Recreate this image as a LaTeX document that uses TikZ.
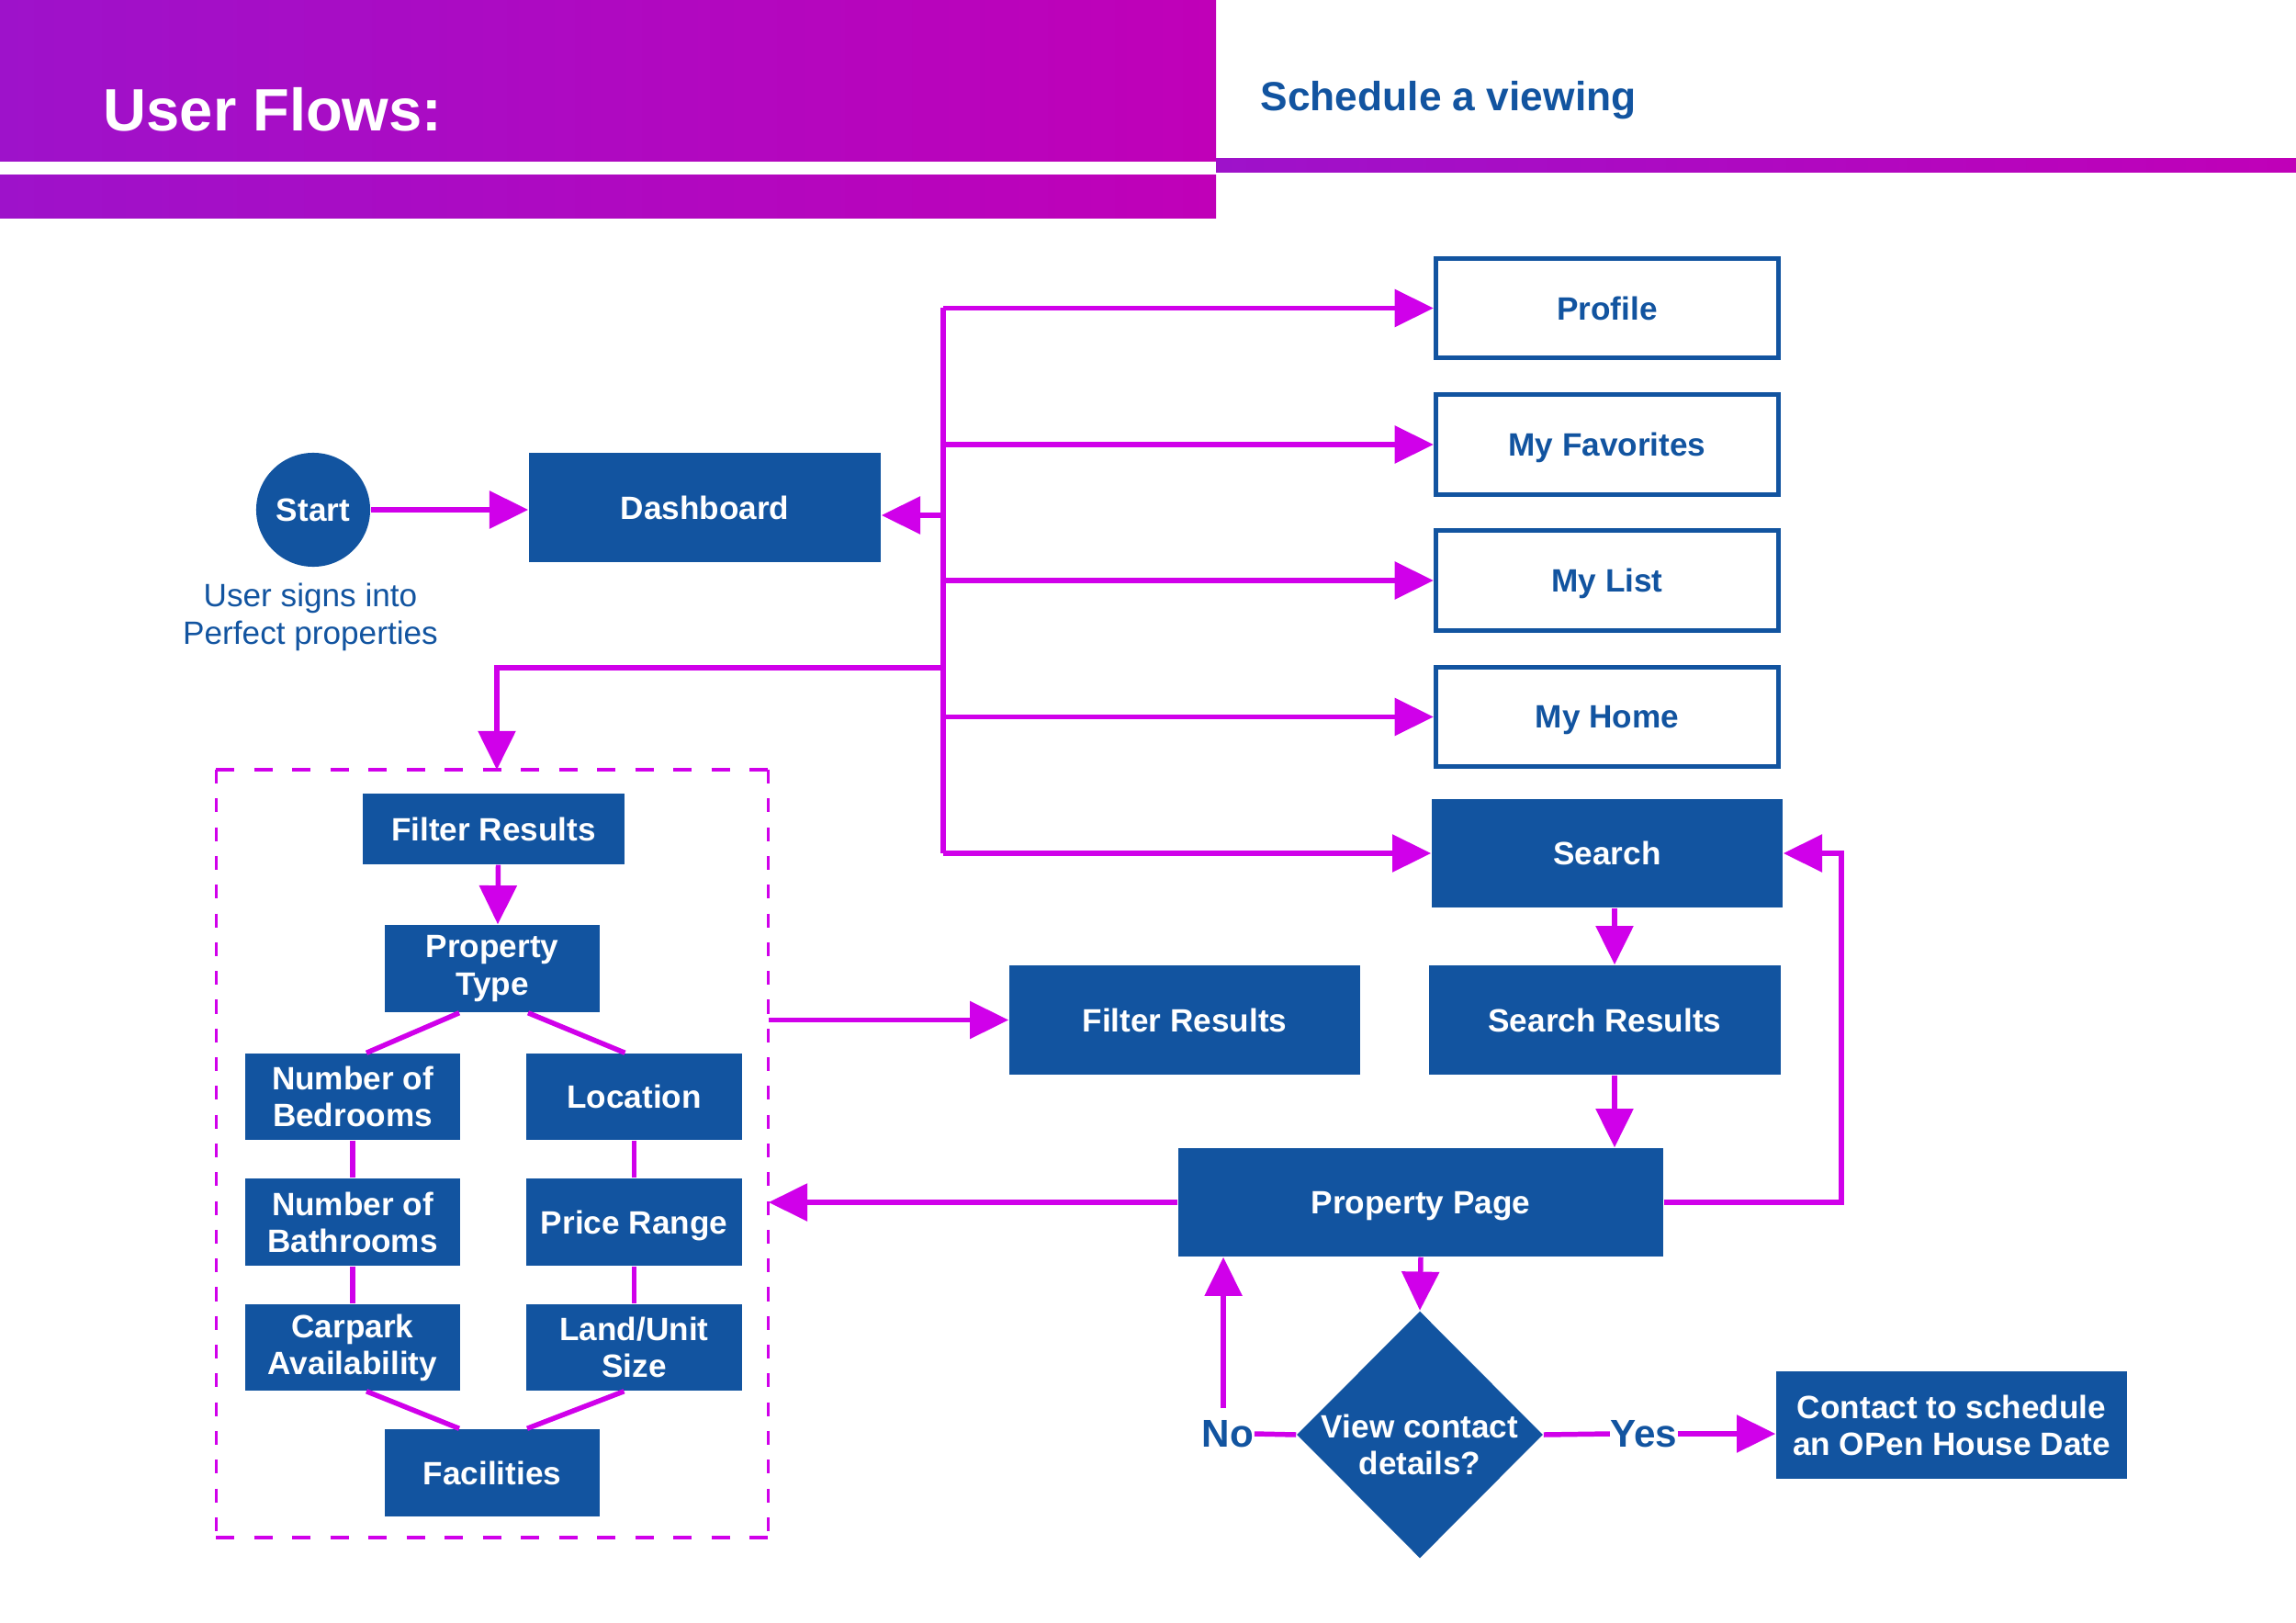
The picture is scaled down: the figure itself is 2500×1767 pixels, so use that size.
\documentclass[tikz,border=0pt]{standalone}
\usepackage{fontspec}
\setmainfont{Liberation Sans}
\usetikzlibrary{arrows.meta,calc,shapes.geometric}
\definecolor{pblue}{RGB}{18,84,160}
\definecolor{pmag}{RGB}{208,0,234}
\definecolor{hdrL}{RGB}{158,18,202}
\definecolor{hdrR}{RGB}{192,0,184}
\begin{document}
\begin{tikzpicture}[x=0.01cm,y=-0.01cm,
  fillbox/.style={rectangle, fill=pblue, text=white, font=\bfseries\fontsize{10}{11.4}\selectfont, align=center, inner sep=0pt},
  oneline/.style={text depth=0pt},
  linebox/.style={rectangle, draw=pblue, line width=1.42pt, fill=white, text=pblue, font=\bfseries\fontsize{10}{11.4}\selectfont, minimum width=3.73cm, minimum height=1.08cm, inner sep=0pt, text depth=0pt},
  whitetext/.style={text=white, font=\bfseries\fontsize{10}{11.4}\selectfont, align=center, inner sep=0pt},
  conn/.style={draw=pmag, line width=1.56pt},
  arr/.style={conn, -{Triangle[length=12pt,width=11.4pt]}},
  lbl/.style={text=pblue, font=\bfseries\fontsize{12}{14}\selectfont, inner sep=0pt},
  dashh/.style={draw=pmag, line width=0.9pt, dash pattern=on 5.7pt off 6.1pt},
  dashv/.style={draw=pmag, line width=0.9pt, dash pattern=on 4.3pt off 4.6pt},
]
\useasboundingbox (0,0) rectangle (2500,1767);
% header
\shade[left color=hdrL, right color=hdrR] (0,0) rectangle (1324,176);
\shade[left color=hdrL, right color=hdrR] (0,191) rectangle (1324,238);
\shade[left color=hdrL, right color=hdrR] (1324,173) rectangle (2500,188);
\node[anchor=base west, text=white, font=\bfseries\fontsize{18.5}{22}\selectfont, inner sep=0pt] (title) at (112,143) {User Flows:};
\node[anchor=base west, text=pblue, font=\bfseries\fontsize{12.6}{15}\selectfont, inner sep=0pt] (subtitle) at (1372,121) {Schedule a viewing};

% start
\node[circle, fill=pblue, text=white, font=\bfseries\fontsize{10}{12}\selectfont, minimum size=1.24cm, inner sep=0pt] (start) at (341,555) {Start};
\node[anchor=north, text=pblue, font=\fontsize{10}{11.7}\selectfont, align=center, inner sep=0pt] (signin) at (338,634) {User signs into\\Perfect properties};

\node[fillbox, oneline, minimum width=3.83cm, minimum height=1.19cm] (dash) at (767.5,552.5) {Dashboard};

% right column
\node[linebox] (profile) at (1750,335.5) {Profile};
\node[linebox] (fav) at (1750,484) {My Favorites};
\node[linebox] (mylist) at (1750,632) {My List};
\node[linebox] (myhome) at (1750,780.5) {My Home};
\node[fillbox, oneline, minimum width=3.82cm, minimum height=1.18cm] (search) at (1750,929) {Search};
\node[fillbox, oneline, minimum width=3.83cm, minimum height=1.19cm] (sres) at (1747.5,1110.5) {Search Results};
\node[fillbox, oneline, minimum width=3.82cm, minimum height=1.19cm] (fr2) at (1290,1110.5) {Filter Results};
\node[fillbox, oneline, minimum width=5.28cm, minimum height=1.18cm] (ppage) at (1547,1309) {Property Page};
\node[diamond, fill=pblue, minimum width=2.68cm, minimum height=2.69cm, inner sep=0pt] (dec) at (1546,1562) {};
\node[whitetext] (dectext) at (1546,1573) {View contact\\details?};
\node[fillbox, minimum width=3.82cm, minimum height=1.17cm] (contact) at (2125,1551.5) {Contact to schedule\\an OPen House Date};
\node[lbl] (no) at (1337,1561) {No};
\node[lbl] (yes) at (1790,1561) {Yes};

% filter panel
\node[rectangle, minimum width=6cm, minimum height=8.34cm, inner sep=0pt] (fbox) at (536,1256) {};
\draw[dashh] (fbox.north west) -- (fbox.north east);
\draw[dashh] (fbox.south west) -- (fbox.south east);
\draw[dashv] (fbox.north west) -- (fbox.south west);
\draw[dashv] (fbox.north east) -- (fbox.south east);
\node[fillbox, oneline, minimum width=2.85cm, minimum height=0.77cm] (fr1) at (537.5,902.5) {Filter Results};
\node[fillbox, minimum width=2.34cm, minimum height=0.95cm] (ptype) at (536,1054.5) {Property\\Type};
\node[fillbox, minimum width=2.34cm, minimum height=0.94cm] (bed) at (384,1194) {Number of\\Bedrooms};
\node[fillbox, oneline, minimum width=2.35cm, minimum height=0.94cm] (loc) at (690.5,1194) {Location};
\node[fillbox, minimum width=2.34cm, minimum height=0.95cm] (bath) at (384,1330.5) {Number of\\Bathrooms};
\node[fillbox, oneline, minimum width=2.35cm, minimum height=0.95cm] (price) at (690.5,1330.5) {Price Range};
\node[fillbox, minimum width=2.34cm, minimum height=0.94cm] (car) at (384,1467) {Carpark\\Availability};
\node[fillbox, minimum width=2.35cm, minimum height=0.94cm] (land) at (690.5,1467) {Land/Unit\\Size};
\node[fillbox, oneline, minimum width=2.34cm, minimum height=0.95cm] (fac) at (536,1603.5) {Facilities};

% connectors
\draw[arr] (start.east) -- (start.east -| dash.west);
\coordinate (busx) at (1027,0);
\draw[conn] (profile.west -| busx) -- (search.west -| busx);
\draw[arr] (profile.west -| busx) -- (profile.west);
\draw[arr] (fav.west -| busx) -- (fav.west);
\draw[arr] (mylist.west -| busx) -- (mylist.west);
\draw[arr] (myhome.west -| busx) -- (myhome.west);
\draw[arr] (search.west -| busx) -- (search.west);
\coordinate (bdash) at (1027,561);
\draw[arr] (bdash) -- (bdash -| dash.east);
\coordinate (bfil) at (1027,727);
\draw[arr] (bfil) -| ($(fbox.north)+(5,0)$);

\draw[arr] (fr2.west -| fbox.east) -- (fr2.west);
\draw[arr] ($(fr1.south)+(5,0)$) -- ($(ptype.north)+(6,0)$);
\draw[conn] ($(ptype.south)+(-36,0)$) -- ($(bed.north)+(15,0)$);
\draw[conn] ($(ptype.south)+(39,0)$) -- ($(loc.north)+(-10,0)$);
\draw[conn] (bed.south) -- (bath.north);
\draw[conn] (bath.south) -- (car.north);
\draw[conn] (loc.south) -- (price.north);
\draw[conn] (price.south) -- (land.north);
\draw[conn] ($(car.south)+(15,0)$) -- ($(fac.north)+(-36,0)$);
\draw[conn] ($(land.south)+(-11,0)$) -- ($(fac.north)+(38,0)$);

\draw[arr] ($(search.south)+(8,0)$) -- ($(sres.north)+(10.5,0)$);
\draw[arr] ($(sres.south)+(10.5,0)$) -- ($(ppage.north)+(211,0)$);
\draw[arr] (ppage.east) -- ++(193,0) |- (search.east);
\draw[arr] (ppage.west) -- (ppage.west -| fbox.east);
\draw[arr] (ppage.south) -- (dec.north);
\draw[conn] (dec.west) -- (no.east);
\draw[arr] ([xshift=-1.4pt,yshift=3.5pt]no.north) -- ([xshift=-1.4pt]no.north |- ppage.south);
\draw[conn] (dec.east) -- (yes.west);
\draw[arr] (yes.east) -- (yes.east -| contact.west);
\end{tikzpicture}
\end{document}
